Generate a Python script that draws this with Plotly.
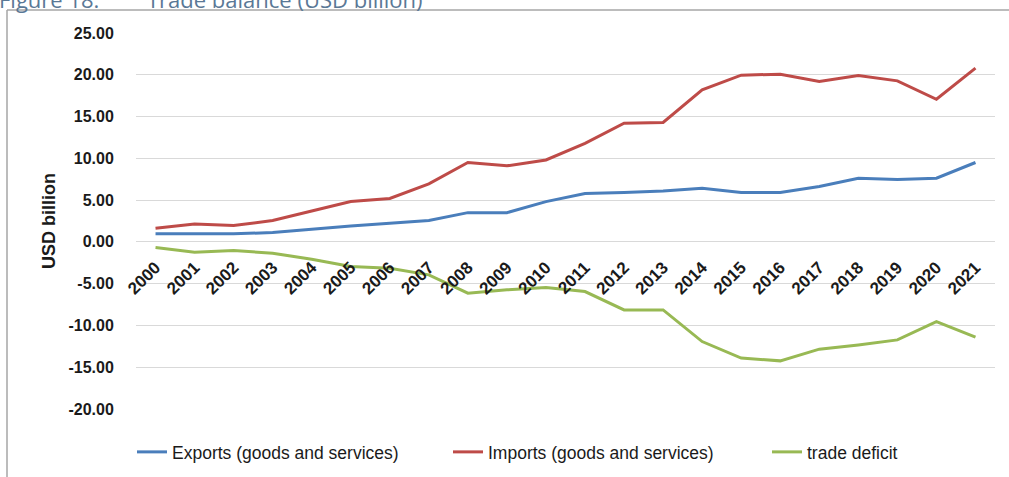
import plotly.graph_objects as go

# Trade balance, USD billion
years = [str(y) for y in range(2000, 2022)]
exports = [0.96, 0.96, 0.96, 1.12, 1.55, 1.90, 2.23, 2.55, 3.50, 3.50, 4.82,
           5.78, 5.90, 6.10, 6.42, 5.90, 5.90, 6.62, 7.62, 7.46, 7.62, 9.50]
imports = [1.64, 2.15, 1.95, 2.55, 3.70, 4.83, 5.20, 6.94, 9.50, 9.10, 9.80,
           11.80, 14.20, 14.30, 18.20, 19.95, 20.07, 19.20, 19.90, 19.27, 17.07, 20.80]
deficit = [-0.68, -1.24, -1.04, -1.36, -2.07, -2.95, -3.15, -3.95, -6.14, -5.74, -5.47,
           -5.94, -8.14, -8.14, -11.93, -13.90, -14.24, -12.84, -12.33, -11.73, -9.53, -11.41]

y_ticks = [25, 20, 15, 10, 5, 0, -5, -10, -15, -20]
y_min, y_max = -20, 25

# name, values, colour, legend id, legend left edge (px)
series = [
    ("Exports (goods and services)", exports, "#4a7ebb", "legend", 132),
    ("Imports (goods and services)", imports, "#be4b48", "legend2", 448),
    ("trade deficit", deficit, "#98b954", "legend3", 767),
]

W, H = 1009, 477
L, R, T, B = 136, 14, 33, 68
plot_w, plot_h = W - L - R, H - T - B


def px_x(px):
    return (px - L) / plot_w


def px_y(py):
    return (H - B - py) / plot_h


fig = go.Figure()
for name, vals, color, leg, _ in series:
    fig.add_trace(go.Scatter(
        x=years, y=vals, name=name, mode="lines",
        line=dict(color=color, width=3), legend=leg,
    ))

ytick_font = dict(family="Liberation Sans", size=16, color="#1a1a1a", weight="bold")
xtick_font = dict(family="Liberation Sans", size=17, color="#1a1a1a", weight="bold")
legend_font = dict(family="Liberation Sans", size=17.5, color="#1a1a1a")

legends = {}
for _, _, _, leg, left in series:
    legends[leg] = dict(
        orientation="h", xref="container", yref="container",
        x=left / W, y=1 - 452 / H, xanchor="left", yanchor="middle",
        font=legend_font, bgcolor="rgba(0,0,0,0)",
    )

fig.update_layout(
    width=W, height=H,
    margin=dict(l=L, r=R, t=T, b=B, autoexpand=False),
    paper_bgcolor="white", plot_bgcolor="white",
    showlegend=True,
    xaxis=dict(
        type="category", range=[-0.5, len(years) - 0.5],
        anchor="free", position=(0 - y_min) / (y_max - y_min),
        tickangle=-45, tickfont=xtick_font, automargin=False,
        showgrid=False, showline=False, zeroline=False,
        ticks="outside", ticklen=8, tickcolor="rgba(0,0,0,0)",
    ),
    yaxis=dict(
        range=[y_min, y_max], tickvals=y_ticks,
        ticktext=[f"{v:.2f}" for v in y_ticks],
        tickfont=ytick_font, automargin=False,
        showgrid=True, gridcolor="#d9d9d9", gridwidth=1,
        zeroline=True, zerolinecolor="#d9d9d9", zerolinewidth=1,
        showline=False,
        ticks="outside", ticklen=18, tickcolor="rgba(0,0,0,0)",
        title=dict(text="USD billion", standoff=8,
                   font=dict(family="Liberation Sans", size=18, color="#1a1a1a",
                             weight="bold")),
    ),
    font=dict(family="Liberation Sans"),
    **legends,
)

# outer frame (top and left edges)
frame = dict(color="#a6a6a6", width=1.5)
fig.add_shape(type="line", xref="paper", yref="paper",
              x0=px_x(7), x1=px_x(W + 2), y0=px_y(10), y1=px_y(10), line=frame)
fig.add_shape(type="line", xref="paper", yref="paper",
              x0=px_x(7), x1=px_x(7), y0=px_y(10), y1=px_y(H + 2), line=frame)

# figure caption above the frame
cap_font = dict(family="Open Sans", size=22, color="#5a7896")
fig.add_annotation(text="Figure 18:", xref="paper", yref="paper",
                   x=px_x(-3), y=px_y(16), xanchor="left", yanchor="bottom",
                   showarrow=False, font=cap_font)
fig.add_annotation(text="Trade balance (USD billion)", xref="paper", yref="paper",
                   x=px_x(145), y=px_y(16), xanchor="left", yanchor="bottom",
                   showarrow=False, font=cap_font)

fig.write_html("out.html")
